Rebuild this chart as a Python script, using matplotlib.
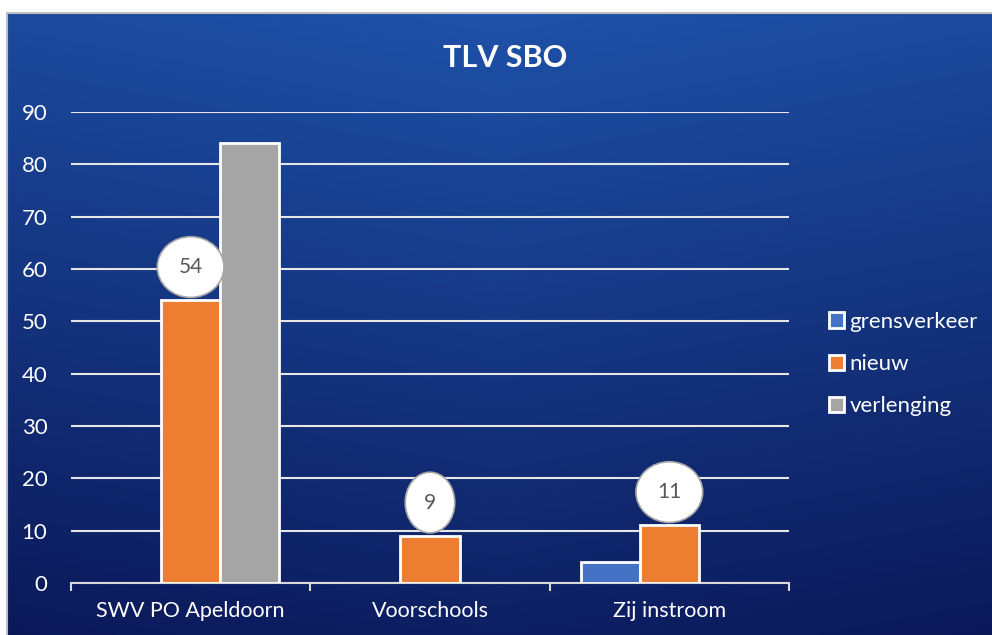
import numpy as np
import matplotlib
matplotlib.use('Agg')
import matplotlib.pyplot as plt
from matplotlib.patches import Patch
from matplotlib.lines import Line2D

plt.rcParams['font.family'] = ['Lato', 'DejaVu Sans']

categories = ['SWV PO Apeldoorn', 'Voorschools', 'Zij instroom']
series_names = ['grensverkeer', 'nieuw', 'verlenging']
grensverkeer = [0, 0, 4]
nieuw = [54, 9, 11]
verlenging = [84, 0, 0]
colors = ['#4472C4', '#ED7D31', '#A5A5A5']

fig = plt.figure(figsize=(9.92, 6.35), dpi=100)
fig.patch.set_facecolor('white')

# achtergrond met verloop
bg = fig.add_axes([7 / 992, 0, 1 - 7 / 992, 1 - 13 / 635])
bg.set_axis_off()
yy, xx = np.mgrid[0:1:300j, 0:1:300j]
top = np.array([0.12, 0.32, 0.66])
bottom = np.array([0.04, 0.09, 0.34])
t = np.clip(yy * 0.85 + 0.25 * np.abs(xx - 0.5), 0, 1)[..., None]
img = top * (1 - t) + bottom * t
bg.imshow(img, aspect='auto', extent=[0, 1, 1, 0])
# grijze rand links en boven
fig.add_artist(Line2D([7 / 992, 7 / 992], [0, 1 - 13 / 635], color='#BFBFBF', lw=1.5))
fig.add_artist(Line2D([7 / 992, 1], [1 - 13 / 635, 1 - 13 / 635], color='#BFBFBF', lw=1.5))

ax = fig.add_axes([71 / 992, 52 / 635, (789 - 71) / 992, 471 / 635])
ax.set_facecolor('none')

x = np.arange(len(categories))
w = 0.247
data = [grensverkeer, nieuw, verlenging]
for i, (vals, c) in enumerate(zip(data, colors)):
    vals = np.array(vals)
    m = vals > 0
    ax.bar(x[m] + (i - 1) * w, vals[m], width=w, color=c, edgecolor='white',
           linewidth=2, zorder=3)

for xi, v in zip(x, nieuw):
    ax.annotate(str(v), (xi, v), xytext=(0, 24), textcoords='offset points',
                ha='center', va='center', fontsize=15, color='#595959',
                bbox=dict(boxstyle='ellipse,pad=0.55', fc='white', ec='#A6A6A6', lw=1.2),
                zorder=5)

ax.set_xlim(-0.5, 2.5)
ax.set_ylim(0, 90)
ax.set_yticks(range(0, 91, 10))
ax.yaxis.grid(True, color='#E6E6E6', lw=1.5, zorder=0)
ax.set_axisbelow(True)
for s in ['top', 'right', 'left']:
    ax.spines[s].set_visible(False)
ax.spines['bottom'].set_color('#D9D9D9')
ax.spines['bottom'].set_linewidth(1.5)
ax.tick_params(axis='y', length=0, pad=17, labelsize=16, labelcolor='white')
ax.set_xticks(x)
ax.set_xticklabels(categories)
ax.tick_params(axis='x', length=0, pad=13, labelsize=15.5, labelcolor='white')
ax.set_xticks([-0.5, 0.5, 1.5, 2.5], minor=True)
ax.tick_params(axis='x', which='minor', length=6, width=1.5, color='#D9D9D9')

fig.text(505 / 992, 1 - 58 / 635, 'TLV SBO', ha='center', va='center',
         fontsize=22, fontweight='bold', color='white')

handles = [Patch(facecolor=c, edgecolor='white', linewidth=2) for c in colors]
fig.legend(handles, series_names, loc='center left',
           bbox_to_anchor=(829 / 992, 1 - 364 / 635), frameon=False,
           borderpad=0, borderaxespad=0,
           fontsize=16, labelcolor='white', handlelength=0.68, handleheight=0.68,
           handletextpad=0.25, labelspacing=1.0)

fig.savefig('out.png', dpi=100)
